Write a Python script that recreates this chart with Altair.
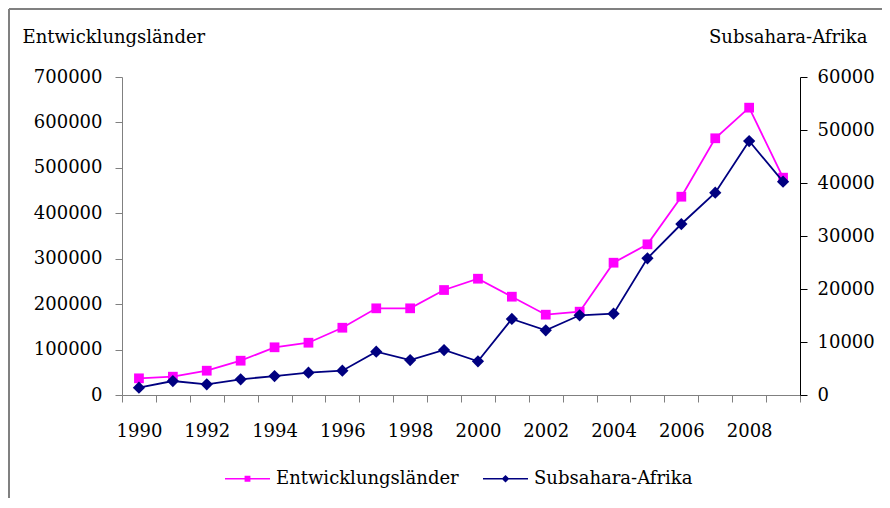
import altair as alt
import pandas as pd

years = list(range(1990, 2010))
entwicklung = [36700, 40300, 53500, 75500, 105000, 115100, 148100, 190800, 190800, 231100,
               256000, 216400, 176800, 183400, 291200, 331700, 436500, 565100, 632500, 478400]
subsahara = [1380, 2640, 2020, 2960, 3580, 4210, 4590, 8170, 6600, 8490,
             6360, 14340, 12200, 15040, 15340, 25790, 32260, 38170, 47920, 40250]
series_names = ["Entwicklungsländer", "Subsahara-Afrika"]
series_colors = ["#FF00FF", "#000080"]
left_ticks = [0, 100000, 200000, 300000, 400000, 500000, 600000, 700000]
right_ticks = [0, 10000, 20000, 30000, 40000, 50000, 60000]

df_e = pd.DataFrame({"year": years, "value": entwicklung, "series": series_names[0]})
df_s = pd.DataFrame({"year": years, "value": subsahara, "series": series_names[1]})

FONT = "DejaVu Serif"
FS = 18

sq_path = "M-1,-0.035H1V0.035H-1Z M-0.13,-0.13H0.13V0.13H-0.13Z"
dm_path = "M-1,-0.035H1V0.035H-1Z M0,-0.17L0.17,0L0,0.17L-0.17,0Z"

leg = alt.Legend(
    title=None, orient="none", direction="horizontal", legendX=103, legendY=379,
    symbolSize=2025, labelFont=FONT, labelFontSize=FS, labelColor="black",
    labelOffset=6, columnPadding=24, labelLimit=400,
    symbolType=alt.ExprRef(expr="datum.value === 'Entwicklungsländer' ? '" + sq_path + "' : '" + dm_path + "'"),
    symbolFillColor=alt.ExprRef(expr="datum.value === 'Entwicklungsländer' ? '#FF00FF' : '#000080'"),
    symbolStrokeColor="transparent",
    symbolStrokeWidth=0,
    symbolOpacity=1,
)

color = alt.Color("series:N", scale=alt.Scale(domain=series_names, range=series_colors), legend=leg)

xenc = alt.X(
    "year:O", bandPosition=0.5,
    scale=alt.Scale(type="band", paddingInner=0, paddingOuter=0),
    axis=alt.Axis(title=None, tickBand="extent", labelAngle=0, labelExpr="datum.value % 2 === 0 ? datum.label : ''",
                  labelOverlap=False, domainColor="#808080", tickColor="#808080", tickSize=7,
                  labelPadding=20, labelFont=FONT, labelFontSize=FS, labelColor="black", grid=False),
)

pink = alt.Chart(df_e).mark_line(
    strokeWidth=1.8,
    point=alt.OverlayMarkDef(shape="square", size=95, filled=True, opacity=1),
).encode(
    x=xenc,
    y=alt.Y("value:Q", scale=alt.Scale(domain=[0, 700000], nice=False),
            axis=alt.Axis(orient="left", values=left_ticks, format="d", grid=False,
                          title="Entwicklungsländer", titleAngle=0, titleAlign="left",
                          titleBaseline="alphabetic", titleX=-100, titleY=-35,
                          titleFont=FONT, titleFontSize=FS, titleFontWeight="normal", titleColor="black",
                          domainColor="#808080", tickColor="#808080", tickSize=7, labelPadding=13,
                          labelFont=FONT, labelFontSize=FS, labelColor="black")),
    color=color,
)

navy = alt.Chart(df_s).mark_line(
    strokeWidth=1.8,
    point=alt.OverlayMarkDef(shape="diamond", size=150, filled=True, opacity=1),
).encode(
    x=xenc,
    y=alt.Y("value:Q", scale=alt.Scale(domain=[0, 60000], nice=False),
            axis=alt.Axis(orient="right", values=right_ticks, format="d", grid=False,
                          title="Subsahara-Afrika", titleAngle=0, titleAlign="right",
                          titleBaseline="alphabetic", titleX=67, titleY=-35,
                          titleFont=FONT, titleFontSize=FS, titleFontWeight="normal", titleColor="black",
                          domainColor="black", tickColor="black", tickSize=7, labelPadding=10,
                          labelFont=FONT, labelFontSize=FS, labelColor="black")),
    color=color,
)

frame_left = alt.Chart(df_e).mark_rule(color="#808080", strokeWidth=2).encode(
    x=alt.value(-113), y=alt.value(-68), y2=alt.value(430))
frame_top = alt.Chart(df_e).mark_rule(color="#808080", strokeWidth=2).encode(
    y=alt.value(-68), x=alt.value(-113), x2=alt.value(770))

chart = alt.layer(pink, navy, frame_left, frame_top).resolve_scale(y="independent").properties(
    width=678, height=318,
    autosize=alt.AutoSizeParams(type="none"),
    padding={"left": 114, "top": 69, "right": 82, "bottom": 103},
).configure_view(stroke=None)

chart.save("out.html", embed_options={"renderer": "svg", "actions": False})
